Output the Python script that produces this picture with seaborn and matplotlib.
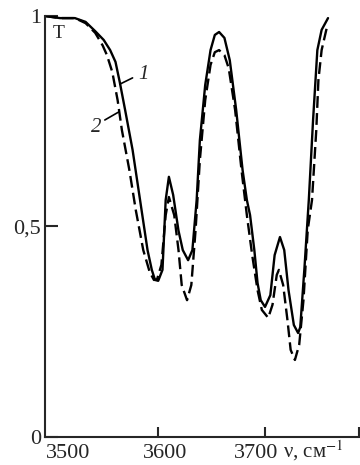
import numpy as np
import pandas as pd
import matplotlib
matplotlib.use('Agg')
import matplotlib.pyplot as plt
import seaborn as sns

# wavenumber (cm-1) and transmission T
nu1 = [3494, 3508, 3522, 3532, 3541, 3549, 3555, 3560, 3564, 3569, 3576, 3583,
       3590, 3594, 3597, 3600, 3604, 3607, 3610, 3614, 3619, 3623, 3628, 3632,
       3636, 3639, 3644, 3649, 3653, 3657, 3662, 3667, 3673, 3679, 3683, 3686,
       3690, 3693, 3696, 3700, 3705, 3709, 3714, 3718, 3722, 3727, 3731, 3733,
       3737, 3741, 3745, 3749, 3753, 3759]
T1 = [1.0, 0.995, 0.995, 0.986, 0.964, 0.943, 0.919, 0.891, 0.843, 0.777, 0.682, 0.563,
      0.444, 0.397, 0.373, 0.371, 0.397, 0.563, 0.618, 0.575, 0.49, 0.444, 0.42, 0.444,
      0.563, 0.705, 0.836, 0.919, 0.955, 0.962, 0.948, 0.895, 0.777, 0.634, 0.563, 0.527,
      0.444, 0.366, 0.325, 0.309, 0.337, 0.432, 0.475, 0.444, 0.349, 0.266, 0.247, 0.261,
      0.404, 0.563, 0.753, 0.919, 0.967, 0.995]

nu2 = [3494, 3508, 3522, 3532, 3541, 3548, 3552, 3557, 3562, 3566, 3573, 3579,
       3586, 3592, 3596, 3599, 3603, 3607, 3610, 3615, 3619, 3622, 3627, 3631,
       3635, 3639, 3644, 3649, 3653, 3657, 3662, 3666, 3672, 3678, 3683, 3688,
       3693, 3697, 3703, 3707, 3711, 3713, 3717, 3721, 3724, 3728, 3732, 3736,
       3740, 3744, 3748, 3750, 3753, 3758]
T2 = [1.0, 0.995, 0.995, 0.983, 0.96, 0.93, 0.907, 0.867, 0.80, 0.729, 0.634, 0.539,
      0.444, 0.392, 0.373, 0.375, 0.409, 0.527, 0.57, 0.527, 0.444, 0.361, 0.325, 0.361,
      0.492, 0.658, 0.80, 0.884, 0.914, 0.919, 0.907, 0.876, 0.777, 0.634, 0.527, 0.432,
      0.349, 0.302, 0.283, 0.314, 0.385, 0.397, 0.361, 0.278, 0.207, 0.183, 0.219, 0.325,
      0.492, 0.563, 0.729, 0.848, 0.919, 0.974]

xticks = [3600, 3700, 3788]
xlabels = ['3500', '3600', '3700']
yticks = [0, 0.5, 1]
ylabels = ['0', '0,5', '1']

sns.set_style('ticks')
plt.rcParams['font.family'] = ['Liberation Serif', 'DejaVu Serif']
plt.rcParams['mathtext.fontset'] = 'stix'

W, H = 360, 465
fig = plt.figure(figsize=(W / 100, H / 100), dpi=100)
ax = fig.add_axes([45 / W, (H - 437) / H, (359 - 45) / W, (437 - 16) / H])

d1 = pd.DataFrame({'nu': nu1, 'T': T1})
d2 = pd.DataFrame({'nu': nu2, 'T': T2})
sns.lineplot(data=d1, x='nu', y='T', ax=ax, sort=False, color='black', lw=1.7,
             solid_joinstyle='round', solid_capstyle='round')
sns.lineplot(data=d2, x='nu', y='T', ax=ax, sort=False, color='black', lw=1.7,
             dashes=(5, 2.2), dash_joinstyle='round', dash_capstyle='butt')

ax.set_xlim(3494, 3788)
ax.set_ylim(0, 1.0)
sns.despine(ax=ax)
for s in ['left', 'bottom']:
    ax.spines[s].set_linewidth(1.5)
ax.set_xticks(xticks)
ax.set_xticklabels([])
ax.set_yticks(yticks)
ax.set_yticklabels(ylabels, fontsize=16)
ax.tick_params(axis='x', direction='in', length=7, width=1.5)
ax.tick_params(axis='y', direction='in', length=9, width=1.5, pad=3)
ax.set_xlabel('')
ax.set_ylabel('')

# x labels placed where they sit in the picture
for lab, px in zip(xlabels, [68, 165, 256]):
    fig.text(px / W, 1 - 453 / H, lab, fontsize=16, ha='center', va='center')
fig.text(283 / W, 1 - 451 / H, 'ν, см$^{-1}$', fontsize=15, ha='left', va='center')

fig.text(53 / W, 1 - 34 / H, 'T', fontsize=14, ha='left', va='center')

# curve labels with leader lines
lead = dict(arrowstyle='-', lw=1.2, color='black', shrinkA=0, shrinkB=0)
ax.annotate('', xy=(3564, 0.838), xytext=(3576, 0.853), arrowprops=lead)
ax.text(3581, 0.862, '1', fontsize=15, style='italic', ha='left', va='center')
ax.annotate('', xy=(3563, 0.772), xytext=(3550, 0.753), arrowprops=lead)
ax.text(3547, 0.735, '2', fontsize=15, style='italic', ha='right', va='center')

fig.savefig('out.png', dpi=100)
